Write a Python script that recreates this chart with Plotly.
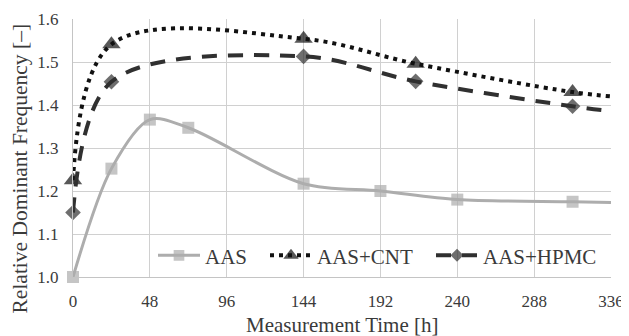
import plotly.graph_objects as go

# Data
aas_x = [0, 24, 48, 72, 144, 192, 240, 312, 336]
aas_y = [1.000, 1.252, 1.366, 1.347, 1.217, 1.200, 1.180, 1.175, 1.173]

cnt_x = [0, 24, 144, 214, 312, 336]
cnt_y = [1.225, 1.541, 1.554, 1.496, 1.430, 1.420]

hpmc_x = [0, 24, 144, 214, 312, 336]
hpmc_y = [1.150, 1.454, 1.513, 1.455, 1.397, 1.386]

x_ticks = [0, 48, 96, 144, 192, 240, 288, 336]
y_ticks = [1.0, 1.1, 1.2, 1.3, 1.4, 1.5, 1.6]

x_title = "Measurement Time [h]"
y_title = "Relative Dominant Frequency [–]"

FONT = "Liberation Serif"
TXT = "#3a3a3a"

# page body has an 8px margin, so the figure is sized to fit the 629x336 window
W, H = 621, 328
L, R, T, B = 65, 18, 11, 59
PW = W - L - R
PH = H - T - B


def sizes(n, s):
    # markers on measured points, none on the final edge point
    return [s] * (n - 1) + [0]


fig = go.Figure()
fig.add_trace(go.Scatter(
    x=aas_x, y=aas_y, name="AAS", mode="lines+markers", cliponaxis=False, legend="legend",
    line=dict(color="#adadad", width=3, shape="spline", smoothing=0.9),
    marker=dict(symbol="square", size=sizes(len(aas_x), 12), color="#adadad", line=dict(width=0)),
))
fig.add_trace(go.Scatter(
    x=cnt_x, y=cnt_y, name="AAS+CNT", mode="lines+markers", cliponaxis=False, legend="legend2",
    line=dict(color="#111111", width=4, dash="4px,5px", shape="spline", smoothing=1.0),
    marker=dict(symbol="triangle-up", size=sizes(len(cnt_x), 16), color="#111111", line=dict(width=0)),
))
fig.add_trace(go.Scatter(
    x=hpmc_x, y=hpmc_y, name="AAS+HPMC", mode="lines+markers", cliponaxis=False, legend="legend3",
    line=dict(color="#303030", width=4, dash="15px,11px", shape="spline", smoothing=0.95),
    marker=dict(symbol="diamond", size=sizes(len(hpmc_x), 12), color="#303030", line=dict(width=0)),
))


def leg(px):
    return dict(
        orientation="h", x=(px - L) / PW, y=(269 - 247.7) / PH,
        xanchor="left", yanchor="middle",
        bgcolor="rgba(0,0,0,0)", font=dict(family=FONT, size=21, color=TXT),
        itemwidth=42,
    )


fig.update_layout(
    width=W, height=H,
    margin=dict(l=L, r=R, t=T, b=B, autoexpand=False),
    paper_bgcolor="white", plot_bgcolor="white",
    font=dict(family=FONT, size=17, color=TXT),
    showlegend=True,
    legend=leg(145), legend2=leg(257), legend3=leg(423),
    xaxis=dict(
        range=[0, 336], tickvals=x_ticks, ticktext=[str(v) for v in x_ticks],
        showgrid=True, gridcolor="#d0d0d0", gridwidth=1, automargin=False,
        zeroline=False, showline=True, linecolor="#c4c4c4", linewidth=1,
        ticks="outside", ticklen=9, tickcolor="rgba(0,0,0,0)",
        tickfont=dict(family=FONT, size=17, color=TXT),
    ),
    yaxis=dict(
        range=[1.0, 1.6], tickvals=y_ticks, ticktext=[f"{v:.1f}" for v in y_ticks],
        showgrid=True, gridcolor="#d0d0d0", gridwidth=1, automargin=False,
        zeroline=False, showline=True, linecolor="#c4c4c4", linewidth=1,
        ticks="outside", ticklen=10, tickcolor="rgba(0,0,0,0)",
        tickfont=dict(family=FONT, size=17, color=TXT),
    ),
    annotations=[
        dict(text=x_title, xref="paper", yref="paper", x=0.5, y=(269 - 317) / PH,
             xanchor="center", yanchor="middle", showarrow=False,
             font=dict(family=FONT, size=21, color=TXT)),
        dict(text=y_title, xref="paper", yref="paper", x=(11.5 - L) / PW, y=(269 - 161) / PH,
             xanchor="center", yanchor="middle", showarrow=False, textangle=-90,
             font=dict(family=FONT, size=21.5, color=TXT)),
    ],
)

fig.write_html("out.html")
